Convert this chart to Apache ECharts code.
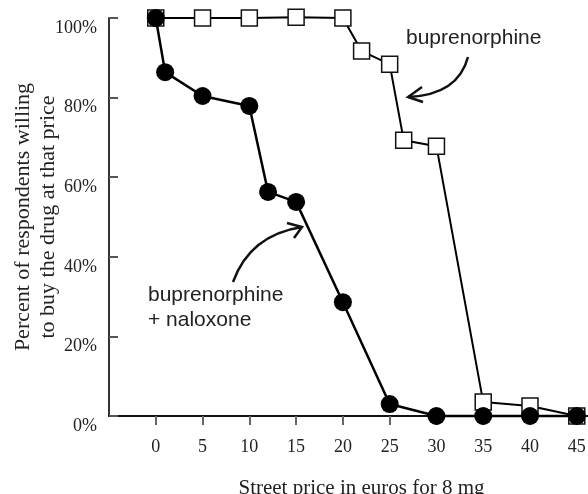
<!DOCTYPE html>
<html>
<head>
<meta charset="utf-8">
<script src="https://cdn.jsdelivr.net/npm/echarts@6/dist/echarts.min.js"></script>
<style>
  html, body { margin: 0; padding: 0; background: #fff; }
  #main { width: 588px; height: 494px; }
</style>
</head>
<body>
<div id="main"></div>
<script>
// buprenorphine (open squares)
var bupPrice = [0, 5, 10, 15, 20, 22, 25, 26.5, 30, 35, 40, 45];
var bupPct   = [100, 100, 100, 100.2, 100, 91.7, 88.4, 69.3, 67.8, 3.5, 2.5, 0];
// buprenorphine + naloxone (filled circles)
var naxPrice = [0, 1, 5, 10, 12, 15, 20, 25, 30, 35, 40, 45];
var naxPct   = [100, 86.4, 80.4, 77.9, 56.3, 53.8, 28.6, 3, 0, 0, 0, 0];
var xTicks = [0, 5, 10, 15, 20, 25, 30, 35, 40, 45];

function pairs(xs, ys) {
  return xs.map(function (x, i) { return [x, ys[i]]; });
}

var serif = '"Liberation Serif", "Times New Roman", serif';
var sans = '"Liberation Sans", Arial, sans-serif';

var chart = echarts.init(document.getElementById('main'));
var option = {
  animation: false,
  grid: { left: 109, right: 0, top: 18, bottom: 78, outerBoundsMode: 'none' },
  xAxis: {
    type: 'value',
    min: -5,
    max: 46.2,
    interval: 5,
    name: 'Street price in euros for 8 mg',
    nameLocation: 'middle',
    nameGap: 62,
    nameMoveOverlap: false,
    nameTextStyle: { fontFamily: serif, fontSize: 21, color: '#222', padding: [0, 0, 0, 26] },
    axisLine: { onZero: false, lineStyle: { color: '#111', width: 2 } },
    axisTick: { show: true, length: 9, customValues: xTicks, lineStyle: { color: '#666', width: 2 } },
    axisLabel: { customValues: xTicks, fontFamily: serif, fontSize: 18, color: '#222', margin: 22 },
    splitLine: { show: false }
  },
  yAxis: {
    type: 'value',
    position: 'left',
    min: 0,
    max: 100,
    interval: 20,
    name: 'Percent of respondents willing\nto buy the drug at that price',
    nameLocation: 'middle',
    nameGap: 48,
    nameMoveOverlap: false,
    nameTextStyle: { fontFamily: serif, fontSize: 22, color: '#222', lineHeight: 25 },
    axisLine: { show: true, onZero: false, lineStyle: { color: '#333', width: 2 } },
    axisTick: { show: true, inside: true, length: 9, lineStyle: { color: '#555', width: 2 } },
    axisLabel: {
      formatter: '{value}%', fontFamily: serif, fontSize: 18, color: '#222',
      margin: 12, verticalAlign: 'top', padding: [1, 0, 0, 0]
    },
    splitLine: { show: false }
  },
  series: [
    {
      name: 'buprenorphine',
      type: 'line',
      data: pairs(bupPrice, bupPct),
      symbol: 'rect',
      symbolSize: 16,
      z: 2,
      clip: false,
      lineStyle: { color: '#000', width: 2 },
      itemStyle: { color: '#fff', borderColor: '#111', borderWidth: 1.5 }
    },
    {
      name: 'buprenorphine + naloxone',
      type: 'line',
      data: pairs(naxPrice, naxPct),
      symbol: 'circle',
      symbolSize: 18,
      z: 3,
      clip: false,
      lineStyle: { color: '#000', width: 2.5 },
      itemStyle: { color: '#000', borderColor: '#000', borderWidth: 0 }
    }
  ],
  graphic: [
    {
      type: 'text', left: 406, top: 28,
      style: { text: 'buprenorphine', font: '21px ' + sans, fill: '#222' }
    },
    {
      type: 'bezierCurve',
      shape: { x1: 468, y1: 57, cpx1: 458, cpy1: 95, x2: 408, y2: 97 },
      style: { stroke: '#111', lineWidth: 2.5, fill: null }
    },
    {
      type: 'polyline',
      shape: { points: [[422, 87], [408, 97], [423, 102]] },
      style: { stroke: '#111', lineWidth: 2.5, fill: null }
    },
    {
      type: 'text', left: 148, top: 283,
      style: { text: 'buprenorphine\n+ naloxone', font: '21px ' + sans, fill: '#222', lineHeight: 25 }
    },
    {
      type: 'bezierCurve',
      shape: { x1: 233, y1: 282, cpx1: 250, cpy1: 235, x2: 302, y2: 227 },
      style: { stroke: '#111', lineWidth: 2.5, fill: null }
    },
    {
      type: 'polyline',
      shape: { points: [[287, 223], [302, 227], [294, 238]] },
      style: { stroke: '#111', lineWidth: 2.5, fill: null }
    }
  ]
};
chart.setOption(option);
</script>
</body>
</html>
